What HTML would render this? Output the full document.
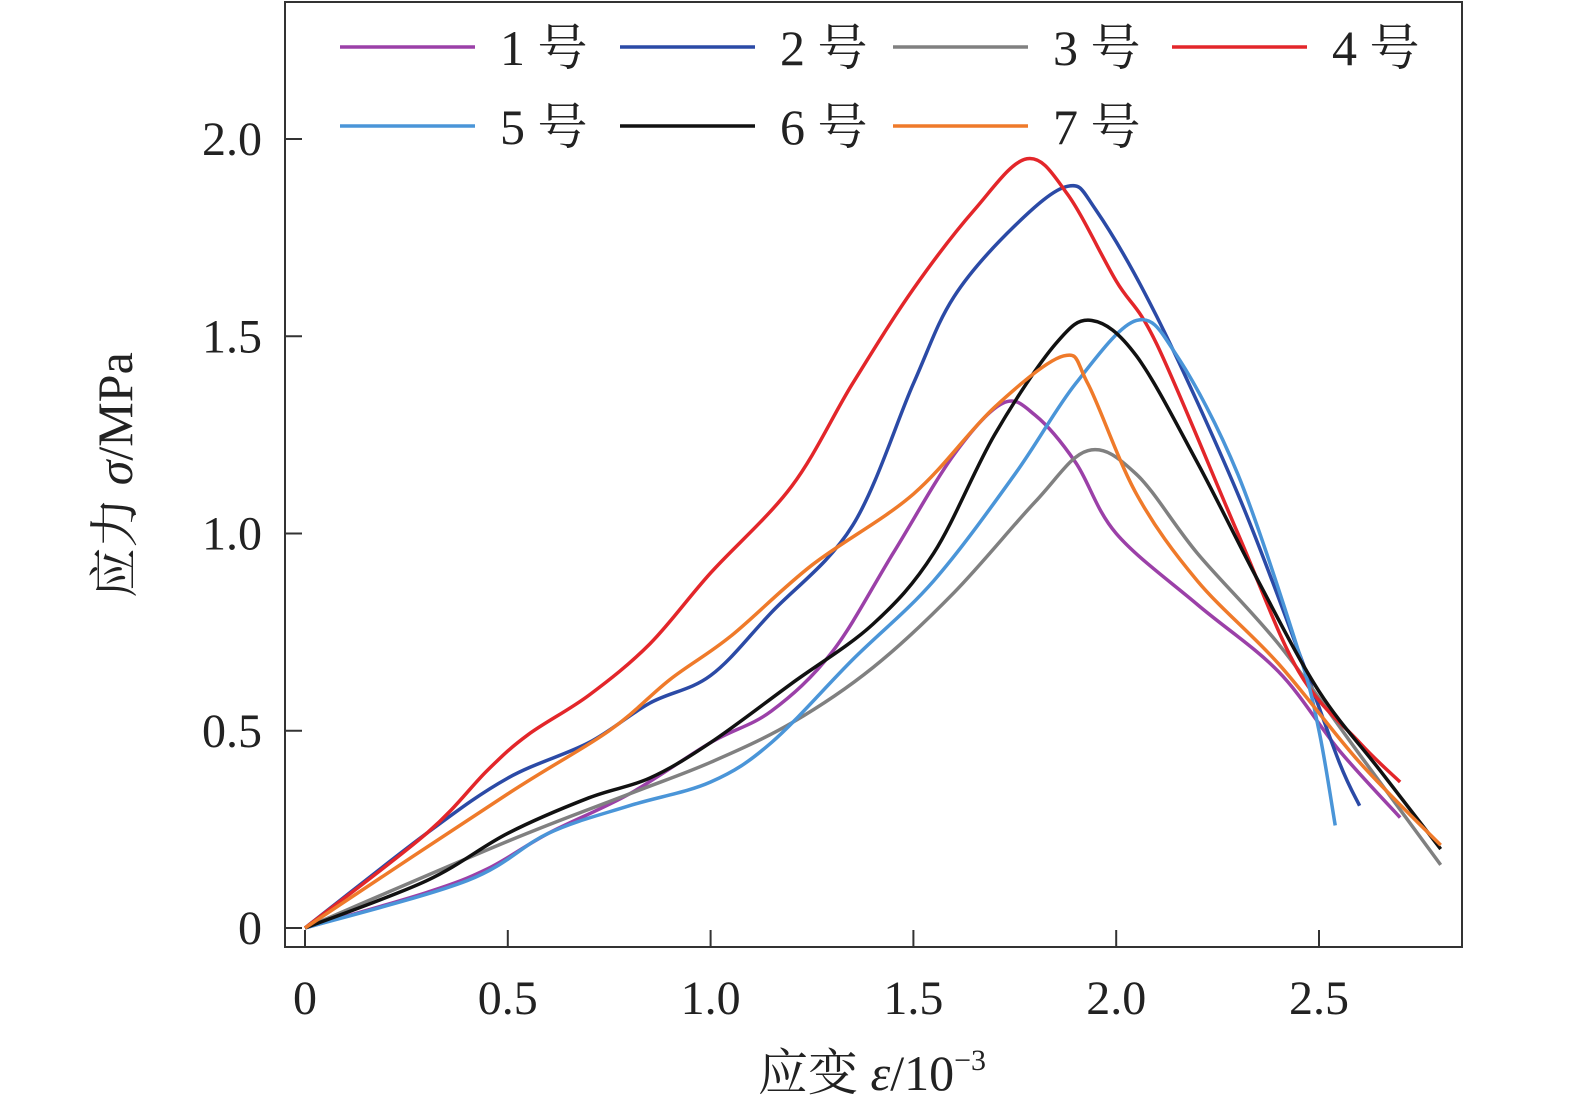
<!DOCTYPE html>
<html><head><meta charset="utf-8"><style>
body{margin:0;background:#fff}
svg text{font-family:"Liberation Serif","Noto Serif CJK SC",serif;fill:#222}
</style></head><body>
<svg id="c" width="1575" height="1113">
<rect x="285" y="2" width="1177" height="945" fill="none" stroke="#333" stroke-width="2"/>
<g id="ticks"></g><g id="series"></g><g id="legend"></g>
<text x="132" y="475" font-size="50" text-anchor="middle" transform="rotate(-90 132 475)">应力 <tspan font-style="italic">σ</tspan>/MPa</text>
<text x="872" y="1090" font-size="50" text-anchor="middle">应变 <tspan font-style="italic">ε</tspan>/10<tspan font-size="30" dy="-20">−3</tspan></text>
</svg>
<script>
const xTicks=[0,0.5,1.0,1.5,2.0,2.5];
const xTickLabels=["0","0.5","1.0","1.5","2.0","2.5"];
const yTicks=[0,0.5,1.0,1.5,2.0];
const yTickLabels=["0","0.5","1.0","1.5","2.0"];
const seriesNames=["1 号","2 号","3 号","4 号","5 号","6 号","7 号"];
const seriesColors=["#9b40a8","#2b4aa6","#808080","#e3262a","#4a95d8","#111111","#ef7a2a"];
const s1=[[0,0],[0.3,0.09],[0.45,0.15],[0.6,0.24],[0.8,0.34],[1.0,0.47],[1.15,0.55],[1.3,0.7],[1.45,0.95],[1.6,1.2],[1.72,1.33],[1.8,1.3],[1.9,1.18],[2.0,1.0],[2.2,0.82],[2.4,0.65],[2.55,0.45],[2.7,0.28]];
const s2=[[0,0],[0.3,0.24],[0.5,0.38],[0.7,0.47],[0.85,0.57],[1.0,0.64],[1.15,0.8],[1.35,1.02],[1.5,1.38],[1.6,1.6],[1.75,1.78],[1.88,1.88],[1.95,1.82],[2.1,1.55],[2.3,1.1],[2.45,0.7],[2.55,0.42],[2.6,0.31]];
const s3=[[0,0],[0.5,0.22],[0.8,0.34],[1.0,0.42],[1.2,0.52],[1.4,0.66],[1.6,0.85],[1.8,1.08],[1.93,1.21],[2.05,1.15],[2.2,0.95],[2.4,0.72],[2.6,0.44],[2.8,0.16]];
const s4=[[0,0],[0.3,0.24],[0.45,0.4],[0.55,0.49],[0.7,0.59],[0.85,0.72],[1.0,0.9],[1.2,1.12],[1.35,1.38],[1.5,1.62],[1.65,1.82],[1.78,1.95],[1.88,1.86],[2.0,1.64],[2.1,1.48],[2.3,1.0],[2.45,0.65],[2.6,0.47],[2.7,0.37]];
const s5=[[0,0],[0.4,0.12],[0.6,0.24],[0.8,0.31],[1.0,0.37],[1.15,0.47],[1.35,0.68],[1.55,0.88],[1.75,1.15],[1.9,1.38],[2.05,1.54],[2.15,1.45],[2.3,1.15],[2.45,0.7],[2.5,0.5],[2.54,0.26]];
const s6=[[0,0],[0.3,0.12],[0.5,0.24],[0.7,0.33],[0.85,0.38],[1.0,0.47],[1.2,0.62],[1.4,0.77],[1.55,0.95],[1.7,1.25],[1.85,1.48],[1.94,1.54],[2.05,1.45],[2.2,1.18],[2.35,0.88],[2.5,0.6],[2.65,0.4],[2.8,0.2]];
const s7=[[0,0],[0.5,0.34],[0.75,0.5],[0.9,0.63],[1.05,0.74],[1.25,0.92],[1.5,1.1],[1.7,1.32],[1.87,1.45],[1.93,1.38],[2.05,1.1],[2.2,0.88],[2.4,0.67],[2.6,0.42],[2.8,0.21]];
const allSeries=[s1,s2,s3,s4,s5,s6,s7];
const NS="http://www.w3.org/2000/svg";
const X=v=>305+405.6*v, Y=v=>928-394.5*v;
function mk(t,a,p){const e=document.createElementNS(NS,t);for(const k in a)e.setAttribute(k,a[k]);p.appendChild(e);return e;}
const tg=document.getElementById('ticks');
xTicks.forEach((v,i)=>{
 const l=mk('line',{x1:X(v),x2:X(v),y1:947,y2:930,stroke:'#333','stroke-width':2},tg);
 
 
 const t=mk('text',{x:X(v),y:1014,'font-size':48,'text-anchor':'middle'},tg);t.textContent=xTickLabels[i];
 
 
});
yTicks.forEach((v,i)=>{
 const l=mk('line',{x1:285,x2:302,y1:Y(v),y2:Y(v),stroke:'#333','stroke-width':2},tg);
 
 
 const t=mk('text',{x:262,y:Y(v)+16,'font-size':48,'text-anchor':'end'},tg);t.textContent=yTickLabels[i];
 
 
});
function path(pts){const p=pts.map(d=>[X(d[0]),Y(d[1])]);let s=`M${p[0][0]},${p[0][1]}`;
 for(let i=0;i<p.length-1;i++){const p0=p[i-1]||p[i],p1=p[i],p2=p[i+1],p3=p[i+2]||p2;
 s+=`C${p1[0]+(p2[0]-p0[0])/6},${p1[1]+(p2[1]-p0[1])/6} ${p2[0]-(p3[0]-p1[0])/6},${p2[1]-(p3[1]-p1[1])/6} ${p2[0]},${p2[1]}`;}return s;}
const sg=document.getElementById('series');
allSeries.forEach((d,i)=>{const e=mk('path',{d:path(d),fill:'none',stroke:seriesColors[i],'stroke-width':3.5},sg);
 
 });
const lg=document.getElementById('legend');const cols=[340,620,893,1172];
seriesNames.forEach((n,i)=>{const cx=cols[i%4],cy=i<4?47:126;
 const g=mk('g',{},lg);
 
 
 mk('line',{x1:cx,x2:cx+135,y1:cy,y2:cy,stroke:seriesColors[i],'stroke-width':3.5},g);
 const t=mk('text',{x:cx+160,y:cy+18,'font-size':50},g);t.textContent=n;});
</script>
</body></html>
